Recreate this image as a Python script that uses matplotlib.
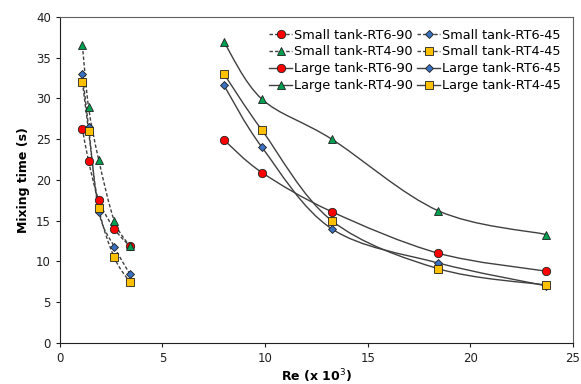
import matplotlib
matplotlib.use("Agg")
import matplotlib.pyplot as plt
from matplotlib.path import Path
from matplotlib.patches import PathPatch
from matplotlib.lines import Line2D

plt.rcParams['font.family'] = ['DejaVu Sans']

# Re (x 10^3) for each tank
re_small = [1.1, 1.4, 1.9, 2.65, 3.4]
re_large = [8.0, 9.85, 13.25, 18.45, 23.7]

# mixing times (s)
small_rt6_90 = [26.3, 22.3, 17.5, 14.0, 11.9]
small_rt6_45 = [33.0, 26.5, 16.1, 11.8, 8.5]
small_rt4_90 = [36.5, 28.9, 22.4, 15.0, 11.9]
small_rt4_45 = [32.0, 26.0, 16.5, 10.5, 7.5]
large_rt6_90 = [24.9, 20.9, 16.1, 11.0, 8.8]
large_rt6_45 = [31.6, 24.0, 14.0, 9.8, 7.0]
large_rt4_90 = [36.9, 29.9, 25.0, 16.2, 13.3]
large_rt4_45 = [33.0, 26.1, 15.0, 9.1, 7.1]

series = [
    ("Small tank-RT6-90", re_small, small_rt6_90, "o", "#ff0000", "dashed", 6.0),
    ("Small tank-RT6-45", re_small, small_rt6_45, "D", "#3a70c0", "dashed", 4.0),
    ("Small tank-RT4-90", re_small, small_rt4_90, "^", "#00a050", "dashed", 6.0),
    ("Small tank-RT4-45", re_small, small_rt4_45, "s", "#ffc000", "dashed", 6.0),
    ("Large tank-RT6-90", re_large, large_rt6_90, "o", "#ff0000", "solid", 6.0),
    ("Large tank-RT6-45", re_large, large_rt6_45, "D", "#3a70c0", "solid", 4.0),
    ("Large tank-RT4-90", re_large, large_rt4_90, "^", "#00a050", "solid", 6.0),
    ("Large tank-RT4-45", re_large, large_rt4_45, "s", "#ffc000", "solid", 6.0),
]

line_col = "#404040"
dash = (0, (2.5, 1.5))


def smooth_path(xs, ys):
    # Excel-style smoothed line: cubic Bezier through the points
    pts = list(zip(xs, ys))
    verts = [pts[0]]
    codes = [Path.MOVETO]
    n = len(pts)
    for i in range(n - 1):
        p0 = pts[i - 1] if i > 0 else pts[i]
        p1 = pts[i]
        p2 = pts[i + 1]
        p3 = pts[i + 2] if i + 2 < n else pts[i + 1]
        c1 = (p1[0] + (p2[0] - p0[0]) / 6, p1[1] + (p2[1] - p0[1]) / 6)
        c2 = (p2[0] - (p3[0] - p1[0]) / 6, p2[1] - (p3[1] - p1[1]) / 6)
        verts += [c1, c2, p2]
        codes += [Path.CURVE4] * 3
    return Path(verts, codes)


fig = plt.figure(figsize=(5.81, 3.84), dpi=100)
ax = fig.add_axes([0.103, 0.107, 0.883, 0.849])

handles = {}
for label, xs, ys, mk, col, style, ms in series:
    ls = dash if style == "dashed" else "-"
    patch = PathPatch(smooth_path(xs, ys), facecolor="none", edgecolor=line_col,
                      lw=1.0, linestyle=ls, zorder=2)
    ax.add_patch(patch)
    ax.plot(xs, ys, linestyle="none", marker=mk, markersize=ms,
            markerfacecolor=col, markeredgecolor="#202020", markeredgewidth=0.6, zorder=3)
    handles[label] = Line2D([], [], color=line_col, lw=1.0, linestyle=ls, marker=mk,
                            markersize=ms, markerfacecolor=col,
                            markeredgecolor="#202020", markeredgewidth=0.6)

ax.set_xlim(0, 25)
ax.set_ylim(0, 40)
ax.set_xticks([0, 5, 10, 15, 20, 25])
ax.set_yticks(range(0, 41, 5))
ax.tick_params(labelsize=8.5, length=3, width=0.8, colors="#202020")
for s in ax.spines.values():
    s.set_color("#606060")
    s.set_linewidth(0.8)
ax.spines["left"].set_color("#202020")
ax.spines["bottom"].set_color("#202020")

ax.set_xlabel("Re (x 10$^3$)", fontsize=9, fontweight="bold", labelpad=2)
ax.set_ylabel("Mixing time (s)", fontsize=9, fontweight="bold", labelpad=4)

# legend fills row by row in the reference
order = ["Small tank-RT6-90", "Small tank-RT4-90", "Large tank-RT6-90", "Large tank-RT4-90",
         "Small tank-RT6-45", "Small tank-RT4-45", "Large tank-RT6-45", "Large tank-RT4-45"]
ax.legend([handles[k] for k in order], order, ncol=2, frameon=False, fontsize=9.3,
          loc="upper right", handlelength=1.8, handletextpad=0.15,
          columnspacing=0.3, labelspacing=0.3, borderaxespad=0.5)

fig.savefig("out.png", dpi=100)
